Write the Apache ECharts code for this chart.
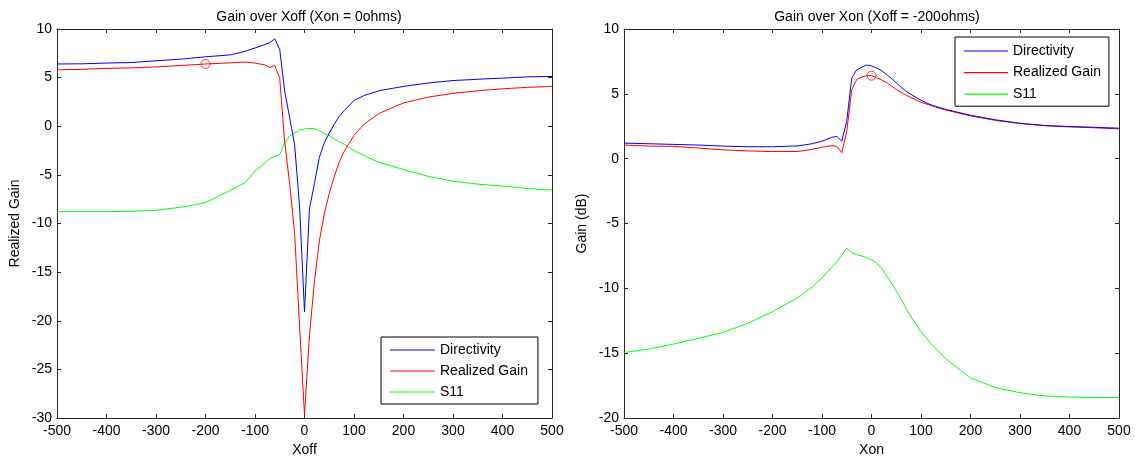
<!DOCTYPE html>
<html>
<head>
<meta charset="utf-8">
<script src="https://cdn.jsdelivr.net/npm/echarts@6/dist/echarts.min.js"></script>
<style>
  html, body { margin: 0; padding: 0; background: #fff; }
  #chart { width: 1136px; height: 462px; }
</style>
</head>
<body>
<div id="chart"></div>
<script>
// Sweep of Xoff with Xon fixed at 0 ohms
const xoffValues = [-500, -450, -400, -350, -300, -250, -200, -150, -120, -100, -80, -70, -60, -50, -40, -30, -20, -10, 0,
  10, 20, 30, 40, 50, 60, 70, 80, 100, 120, 150, 200, 250, 300, 350, 400, 450, 500];
const xoffDirectivity = [6.4, 6.42, 6.5, 6.55, 6.73, 6.9, 7.14, 7.34, 7.7, 8.05, 8.4, 8.6, 8.98, 7.9, 3.6, 0.9, -1.9, -8.2, -19.1,
  -8.5, -5.9, -3.2, -1.7, -0.7, 0.2, 1.0, 1.6, 2.65, 3.15, 3.65, 4.1, 4.45, 4.7, 4.83, 4.95, 5.08, 5.12];
const xoffRealizedGain = [5.8, 5.85, 5.95, 6.0, 6.1, 6.25, 6.4, 6.52, 6.6, 6.5, 6.3, 6.05, 6.25, 4.9, -1.6, -5.9, -11.0, -20.5, -29.7,
  -21.5, -16.0, -11.8, -9.0, -6.9, -5.2, -3.7, -2.6, -0.95, 0.2, 1.3, 2.4, 3.0, 3.38, 3.65, 3.85, 4.0, 4.1];
const xoffS11 = [-8.78, -8.78, -8.78, -8.75, -8.64, -8.33, -7.85, -6.6, -5.8, -4.6, -3.8, -3.3, -3.1, -2.9, -1.75, -1.0, -0.7, -0.4, -0.28,
  -0.22, -0.26, -0.45, -0.75, -0.95, -1.3, -1.6, -1.85, -2.5, -3.0, -3.7, -4.45, -5.15, -5.65, -5.95, -6.15, -6.4, -6.56];
const xoffMarker = [-200, 6.4];

// Sweep of Xon with Xoff fixed at -200 ohms
const xonValues = [-500, -450, -400, -350, -300, -250, -200, -150, -120, -100, -80, -70, -60, -50, -40, -30, -20, -10, 0,
  10, 20, 30, 40, 50, 60, 70, 80, 100, 120, 150, 200, 250, 300, 350, 400, 450, 500];
const xonDirectivity = [1.2, 1.15, 1.1, 1.05, 0.97, 0.92, 0.92, 0.98, 1.15, 1.35, 1.65, 1.72, 1.35, 2.9, 6.2, 6.85, 7.05, 7.22, 7.15,
  7.0, 6.8, 6.5, 6.2, 5.85, 5.5, 5.2, 4.95, 4.5, 4.15, 3.8, 3.35, 3.0, 2.72, 2.55, 2.48, 2.42, 2.35];
const xonRealizedGain = [1.05, 0.97, 0.95, 0.82, 0.68, 0.6, 0.55, 0.55, 0.72, 0.88, 1.0, 0.95, 0.46, 2.1, 5.3, 6.1, 6.3, 6.4, 6.4,
  6.25, 6.08, 5.88, 5.6, 5.35, 5.1, 4.9, 4.7, 4.35, 4.1, 3.75, 3.3, 2.95, 2.72, 2.55, 2.45, 2.38, 2.3];
const xonS11 = [-14.95, -14.68, -14.3, -13.85, -13.4, -12.7, -11.8, -10.75, -9.9, -9.2, -8.35, -7.95, -7.45, -6.88, -7.25, -7.4, -7.5, -7.62, -7.8,
  -8.05, -8.45, -9.0, -9.6, -10.2, -10.85, -11.55, -12.2, -13.35, -14.25, -15.45, -16.9, -17.65, -18.05, -18.3, -18.38, -18.42, -18.42];
const xonMarker = [0, 6.4];

const seriesNames = ['Directivity', 'Realized Gain', 'S11'];
const seriesColors = ['#0000ff', '#ff0000', '#00ff00'];
const titles = ['Gain over Xoff (Xon = 0ohms)', 'Gain over Xon (Xoff = -200ohms)'];
const xNames = ['Xoff', 'Xon'];
const yNames = ['Realized Gain', 'Gain (dB)'];

const FONT = '"Liberation Sans", Arial, Helvetica, sans-serif';
const INK = '#000';
const AXIS = '#262626';

function pairs(xs, ys) { return xs.map((x, i) => [x, ys[i]]); }

function xAxes(gridIndex, name) {
  const common = {
    type: 'value', gridIndex, min: -500, max: 500, interval: 100,
    axisLine: { show: true, onZero: false, lineStyle: { color: AXIS, width: 1 } },
    axisTick: { show: true, inside: true, length: 4, lineStyle: { color: AXIS } },
    splitLine: { show: false }
  };
  return [
    Object.assign({}, common, {
      position: 'bottom', name, nameLocation: 'middle', nameGap: 25,
      nameTextStyle: { fontFamily: FONT, fontSize: 14, color: INK },
      axisLabel: { fontFamily: FONT, fontSize: 14, color: INK, margin: 6 }
    }),
    Object.assign({}, common, { position: 'top', axisLabel: { show: false } })
  ];
}

function yAxes(gridIndex, name, min, max) {
  const common = {
    type: 'value', gridIndex, min, max, interval: 5,
    axisLine: { show: true, onZero: false, lineStyle: { color: AXIS, width: 1 } },
    axisTick: { show: true, inside: true, length: 4, lineStyle: { color: AXIS } },
    splitLine: { show: false }
  };
  return [
    Object.assign({}, common, {
      position: 'left', name, nameLocation: 'middle', nameGap: 35,
      nameTextStyle: { fontFamily: FONT, fontSize: 14, color: INK },
      axisLabel: { fontFamily: FONT, fontSize: 14, color: INK, margin: 5 }
    }),
    Object.assign({}, common, { position: 'right', axisLabel: { show: false } })
  ];
}

function lineSeries(axisIndex, xs, ysList) {
  return ysList.map((ys, i) => ({
    type: 'line', name: seriesNames[i],
    xAxisIndex: axisIndex, yAxisIndex: axisIndex,
    data: pairs(xs, ys),
    showSymbol: false, symbol: 'none',
    lineStyle: { color: seriesColors[i], width: 1 },
    itemStyle: { color: seriesColors[i] },
    animation: false, z: 3 - i
  }));
}

function markerSeries(axisIndex, point) {
  return {
    type: 'scatter', name: 'selected',
    xAxisIndex: axisIndex, yAxisIndex: axisIndex,
    data: [point], symbol: 'circle', symbolSize: 9,
    itemStyle: { color: 'rgba(0,0,0,0)', borderColor: '#ff0000', borderWidth: 1 },
    animation: false, z: 5, silent: true
  };
}

function legendBox(left, top, itemWidth, padding, itemGap) {
  return {
    data: seriesNames, orient: 'vertical', left, top,
    icon: 'rect', itemWidth, itemHeight: 1.2, itemGap,
    padding, borderColor: '#000', borderWidth: 1, borderRadius: 0,
    backgroundColor: '#fff',
    textStyle: { fontFamily: FONT, fontSize: 14, color: INK, lineHeight: 14 },
    selectedMode: false
  };
}

const chart = echarts.init(document.getElementById('chart'), null, { renderer: 'canvas' });
chart.setOption({
  backgroundColor: '#fff',
  animation: false,
  title: [
    { text: titles[0], left: 304, top: 5, textAlign: 'center',
      textStyle: { fontFamily: FONT, fontSize: 14, fontWeight: 'normal', color: INK } },
    { text: titles[1], left: 872, top: 5, textAlign: 'center',
      textStyle: { fontFamily: FONT, fontSize: 14, fontWeight: 'normal', color: INK } }
  ],
  grid: [
    { left: 57, right: 584, top: 29, bottom: 42, show: false },
    { left: 624, right: 17, top: 29, bottom: 42, show: false }
  ],
  xAxis: [...xAxes(0, xNames[0]), ...xAxes(1, xNames[1])],
  yAxis: [...yAxes(0, yNames[0], -30, 10), ...yAxes(1, yNames[1], -20, 10)],
  legend: [
    legendBox(381, 337, 45, [6, 10, 5, 9], 7),
    legendBox(955, 37, 44, [7, 8, 5, 9], 7.6)
  ],
  series: [
    ...lineSeries(0, xoffValues, [xoffDirectivity, xoffRealizedGain, xoffS11]),
    markerSeries(0, xoffMarker),
    ...lineSeries(2, xonValues, [xonDirectivity, xonRealizedGain, xonS11]),
    markerSeries(2, xonMarker)
  ]
});
</script>
</body>
</html>
